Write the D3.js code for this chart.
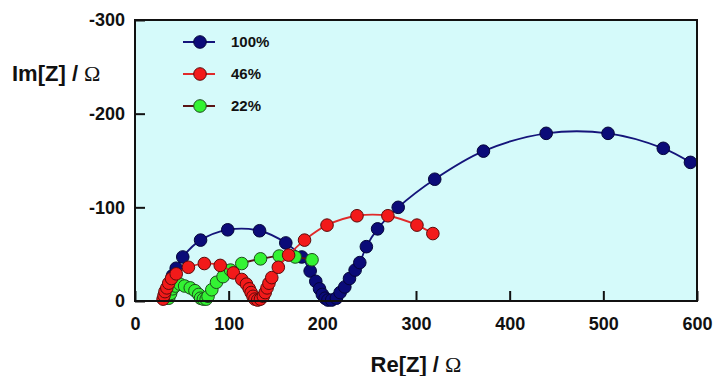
<!DOCTYPE html>
<html lang="en">

<head>
    <meta charset="UTF-8">
    <title>Nyquist plot</title>
    <script src="https://d3js.org/d3.v7.min.js"></script>
    <style>
        body { margin: 0; background: #fff; }
        text { font-family: Arial, "Liberation Sans", sans-serif; font-weight: bold; fill: #111; }
    </style>
</head>

<body>
    <svg id="chart" width="714" height="376"></svg>

    <script>
        // Re[Z] / Im[Z] in ohm
        const re100 = [33, 35, 37, 40, 44, 51, 70, 99, 133, 161, 178, 187, 193, 197, 200, 203, 206, 210, 215, 219, 224, 229, 235, 240, 247, 259, 281, 320, 372, 439, 505, 564, 593];
        const im100 = [-3, -10, -18, -27, -35, -47, -65, -76, -75, -62, -47, -32, -21, -13, -7, -3, -1, -1, -3, -9, -15, -24, -33, -41, -58, -77, -100, -130, -160, -179, -179, -163, -148];

        const re46 = [30, 31, 32, 34, 36, 39, 44, 57, 74, 91, 105, 114, 119, 122, 124, 126, 128, 131, 134, 137, 139, 141, 143, 146, 153, 164, 181, 205, 237, 270, 301, 318];
        const im46 = [-2, -6, -10, -14, -19, -24, -29, -36, -40, -38, -30, -23, -18, -13, -9, -5, -2, -1, -2, -5, -9, -14, -19, -25, -36, -49, -65, -81, -91, -91, -81, -72];

        const re22 = [36, 38, 40, 43, 48, 53, 59, 64, 68, 70, 73, 76, 78, 82, 87, 94, 102, 114, 134, 154, 171, 189];
        const im22 = [-3, -8, -13, -16, -18, -16, -14, -11, -7, -3, -2, -2, -5, -12, -20, -26, -33, -40, -45, -48, -47, -44];

        const series = [
            { name: "100%", re: re100, im: im100, fill: "#0b0b78", stroke: "#05053a", line: "#14147a" },
            { name: "22%", re: re22, im: im22, fill: "#33f333", stroke: "#1d4a1d", line: "#5a1414" },
            { name: "46%", re: re46, im: im46, fill: "#f21a1a", stroke: "#5a0b0b", line: "#e02a2a" }
        ];
        const legendOrder = ["100%", "46%", "22%"];

        const xTicks = [0, 100, 200, 300, 400, 500, 600];
        const yTicks = [0, -100, -200, -300];

        const svg = d3.select("#chart");
        const margin = { top: 20, right: 17, bottom: 75, left: 135 };
        const width = 714 - margin.left - margin.right;
        const height = 376 - margin.top - margin.bottom;
        const g = svg.append("g").attr("transform", `translate(${margin.left},${margin.top})`);

        const x = d3.scaleLinear().domain([0, 600]).range([0, width]);
        const y = d3.scaleLinear().domain([0, -300]).range([height, 0]);

        g.append("rect")
            .attr("width", width)
            .attr("height", height)
            .attr("fill", "#d5fafa");

        // axes, ticks pointing inward
        const xAxis = g.append("g")
            .attr("transform", `translate(0,${height})`)
            .call(d3.axisBottom(x).tickValues(xTicks).tickSizeInner(-10).tickSizeOuter(0).tickPadding(16));
        const yAxis = g.append("g")
            .call(d3.axisLeft(y).tickValues(yTicks).tickSizeInner(-10).tickSizeOuter(0).tickPadding(10)
                .tickFormat(d => String(d)));

        [xAxis, yAxis].forEach(a => {
            a.select(".domain").remove();
            a.selectAll(".tick line").attr("stroke", "#111").attr("stroke-width", 2);
            a.selectAll(".tick text")
                .attr("fill", "#111")
                .style("font-size", "18px")
                .style("font-weight", "bold")
                .style("font-family", "Arial, 'Liberation Sans', sans-serif");
        });

        const line = d3.line()
            .x(d => x(d[0]))
            .y(d => y(d[1]))
            .curve(d3.curveCatmullRom.alpha(0.5));

        series.forEach(s => {
            const pts = s.re.map((v, i) => [v, s.im[i]]);
            g.append("path")
                .datum(pts)
                .attr("fill", "none")
                .attr("stroke", s.line)
                .attr("stroke-width", 1.8)
                .attr("d", line);
            g.selectAll(null)
                .data(pts)
                .join("circle")
                .attr("cx", d => x(d[0]))
                .attr("cy", d => y(d[1]))
                .attr("r", 6.3)
                .attr("fill", s.fill)
                .attr("stroke", s.stroke)
                .attr("stroke-width", 1);
        });

        // frame
        g.append("rect")
            .attr("width", width)
            .attr("height", height)
            .attr("fill", "none")
            .attr("stroke", "#111")
            .attr("stroke-width", 2);

        // legend
        const legend = g.append("g").attr("transform", "translate(65,22)");
        legendOrder.forEach((name, i) => {
            const s = series.find(d => d.name === name);
            const row = legend.append("g").attr("transform", `translate(0,${i * 32})`);
            row.append("line")
                .attr("x1", -17).attr("x2", 15)
                .attr("stroke", s.line).attr("stroke-width", 2);
            row.append("circle")
                .attr("r", 6.3)
                .attr("fill", s.fill)
                .attr("stroke", s.stroke);
            row.append("text")
                .attr("x", 31)
                .attr("dy", "0.36em")
                .style("font-size", "15px")
                .text(name);
        });

        // axis titles
        const yTitle = svg.append("text")
            .attr("x", 12)
            .attr("y", 81)
            .style("font-size", "22px");
        yTitle.append("tspan").text("Im[Z] / ");
        yTitle.append("tspan").style("font-family", "'Liberation Serif', serif").style("font-weight", "normal").text("Ω");

        const xTitle = svg.append("text")
            .attr("x", 416)
            .attr("y", 372)
            .attr("text-anchor", "middle")
            .style("font-size", "22px");
        xTitle.append("tspan").text("Re[Z] / ");
        xTitle.append("tspan").style("font-family", "'Liberation Serif', serif").style("font-weight", "normal").text("Ω");
    </script>

</body>

</html>
